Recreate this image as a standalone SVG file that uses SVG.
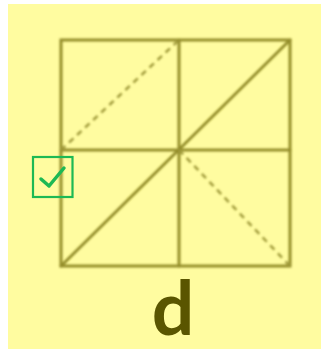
<svg xmlns="http://www.w3.org/2000/svg" width="321" height="349" viewBox="0 0 321 349">
  <defs>
    <style>
      .ln { stroke: #948e2c; stroke-width: 3; fill: none; stroke-linecap: round; }
      .dash { stroke: #a29c3c; stroke-width: 2.5; stroke-dasharray: 6 5; fill: none; }
      .chk { stroke: #1db954; fill: none; }
    </style>
    <filter id="soft" x="-5%" y="-5%" width="110%" height="110%">
      <feGaussianBlur stdDeviation="0.8"/>
    </filter>
  </defs>
  <rect x="0" y="0" width="321" height="349" fill="#ffffff"/>
  <rect x="8" y="4" width="313" height="345" fill="#fffca0"/>
  <g id="grid" filter="url(#soft)">
    <rect x="61" y="40" width="229" height="226" class="ln"/>
    <line x1="179" y1="40" x2="179" y2="266" class="ln"/>
    <line x1="61" y1="150" x2="290" y2="150" class="ln"/>
    <line x1="61" y1="266" x2="290" y2="40" class="ln"/>
    <line x1="61" y1="150" x2="179" y2="40" class="dash"/>
    <line x1="179" y1="150" x2="290" y2="266" class="dash"/>
  </g>
  <g id="checkbox">
    <rect x="33" y="157" width="39.5" height="40" class="chk" stroke-width="2.2"/>
    <polyline points="41,179 49,186 64,168" class="chk" stroke-width="3.5" stroke-linecap="round" stroke-linejoin="round"/>
  </g>
  <g id="label">
    <text x="173" y="335" font-family="Lato, 'Liberation Sans', sans-serif" font-weight="bold" font-size="75" fill="#5a5500" text-anchor="middle">d</text>
  </g>
</svg>
